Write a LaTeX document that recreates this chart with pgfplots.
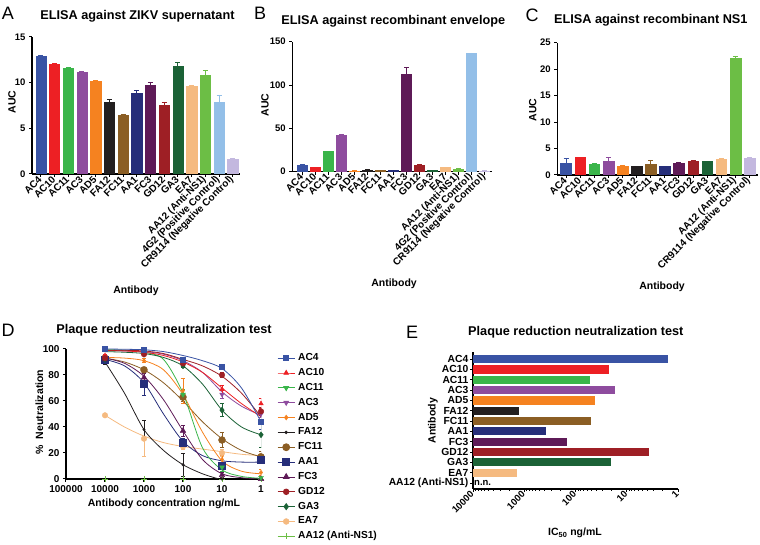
\documentclass[border=0pt]{standalone}
\usepackage{pgfplots}
\pgfplotsset{compat=1.18}
\usepackage{fontspec}
\setmainfont{Liberation Sans}
\definecolor{cAC4}{HTML}{3953A4}
\definecolor{cAC10}{HTML}{ED2024}
\definecolor{cAC11}{HTML}{3AB54A}
\definecolor{cAC3}{HTML}{8E4C9E}
\definecolor{cAD5}{HTML}{F58220}
\definecolor{cFA12}{HTML}{231F20}
\definecolor{cFC11}{HTML}{8B5E24}
\definecolor{cAA1}{HTML}{262E7A}
\definecolor{cFC3}{HTML}{5E1A57}
\definecolor{cGD12}{HTML}{9E1F25}
\definecolor{cGA3}{HTML}{1B6236}
\definecolor{cEA7}{HTML}{F5BA80}
\definecolor{cAA12}{HTML}{6CBE45}
\definecolor{cGtwo}{HTML}{93BFE8}
\definecolor{cCR}{HTML}{C3B8DF}
\pgfplotsset{
  vb/.style={ybar, bar shift=0pt, fill=#1, draw=#1,
    error bars/y dir=plus, error bars/y explicit,
    error bars/error bar style={draw=#1, line width=0.9pt},
    error bars/error mark options={draw=#1, rotate=90, mark size=2.5pt, line width=0.9pt}},
  elisa/.style={scale only axis, anchor=south west, axis lines*=left, tick align=outside,
    major tick length=3pt, axis line style={line width=1.1pt},
    every tick/.style={line width=1pt, black}, ymin=0,
    /pgf/number format/assume math mode=true,
    xticklabel style={rotate=45, anchor=east, inner sep=1pt, font=\fontsize{10}{11}\selectfont\bfseries},
    yticklabel style={font=\fontsize{9.5}{10}\selectfont\bfseries}},
  dcurve/.style={#1, line width=0.8pt, smooth, forget plot, no marks},
  dpts/.style={#1, only marks, forget plot,
    error bars/y dir=both, error bars/y explicit,
    error bars/error bar style={draw=#1, line width=0.8pt},
    error bars/error mark options={draw=#1, rotate=90, mark size=2.2pt, line width=0.8pt}},
  ebar/.style={draw=#1, line width=8.3pt, forget plot, no marks}
}
\newcommand{\ttl}{\fontsize{12.7}{14}\selectfont\bfseries}
\newcommand{\lbl}{\fontsize{10.5}{12}\selectfont\bfseries}
\newcommand{\letter}{\fontsize{18}{20}\selectfont}
\begin{document}
\begin{tikzpicture}
\path[use as bounding box] (0pt,0pt) rectangle (760pt,545pt);
% ---------------- Panel A
\begin{axis}[elisa, at={(32pt,371pt)}, width=208pt, height=137pt,
  xmin=-0.645, xmax=14.53, ymax=15, ytick={0,5,10,15}, bar width=0.75,
  xtick={0,...,14},
  xticklabels={AC4,AC10,AC11,AC3,AD5,FA12,FC11,AA1,FC3,GD12,GA3,EA7,AA12 (Anti-NS1),4G2 (Positive Control),CR9114 (Negative Control)}]
\addplot[vb=cAC4] coordinates {(0,12.9) +- (0,0.1)};
\addplot[vb=cAC10] coordinates {(1,12.0) +- (0,0.05)};
\addplot[vb=cAC11] coordinates {(2,11.6) +- (0,0.05)};
\addplot[vb=cAC3] coordinates {(3,11.15) +- (0,0.05)};
\addplot[vb=cAD5] coordinates {(4,10.15) +- (0,0.05)};
\addplot[vb=cFA12] coordinates {(5,7.9) +- (0,0.3)};
\addplot[vb=cFC11] coordinates {(6,6.4) +- (0,0.1)};
\addplot[vb=cAA1] coordinates {(7,8.9) +- (0,0.2)};
\addplot[vb=cFC3] coordinates {(8,9.7) +- (0,0.35)};
\addplot[vb=cGD12] coordinates {(9,7.55) +- (0,0.3)};
\addplot[vb=cGA3] coordinates {(10,11.8) +- (0,0.4)};
\addplot[vb=cEA7] coordinates {(11,9.6) +- (0,0.05)};
\addplot[vb=cAA12] coordinates {(12,10.85) +- (0,0.45)};
\addplot[vb=cGtwo] coordinates {(13,7.9) +- (0,0.75)};
\addplot[vb=cCR] coordinates {(14,1.6) +- (0,0.1)};
\end{axis}
% ---------------- Panel B
\begin{axis}[elisa, at={(292.3pt,373.3pt)}, width=199.4pt, height=130pt,
  xmin=-0.77, xmax=14.54, ymax=150, ytick={0,50,100,150}, bar width=0.77,
  xtick={0,...,14},
  xticklabels={AC4,AC10,AC11,AC3,AD5,FA12,FC11,AA1,FC3,GD12,GA3,EA7,AA12 (Anti-NS1),4G2 (Positive Control),CR9114 (Negative Control)}]
\addplot[vb=cAC4] coordinates {(0,7.5) +- (0,0.3)};
\addplot[vb=cAC10] coordinates {(1,5.0) +- (0,0.3)};
\addplot[vb=cAC11] coordinates {(2,23.5) +- (0,0.3)};
\addplot[vb=cAC3] coordinates {(3,42) +- (0,0.4)};
\addplot[vb=cAD5] coordinates {(4,0.8) +- (0,0.1)};
\addplot[vb=cFA12] coordinates {(5,2.0) +- (0,0.2)};
\addplot[vb=cFC11] coordinates {(6,1.5) +- (0,0.2)};
\addplot[vb=cAA1] coordinates {(7,1.5) +- (0,0.2)};
\addplot[vb=cFC3] coordinates {(8,113) +- (0,7.5)};
\addplot[vb=cGD12] coordinates {(9,8) +- (0,0.3)};
\addplot[vb=cGA3] coordinates {(10,1.2) +- (0,0.2)};
\addplot[vb=cEA7] coordinates {(11,5) +- (0,0.3)};
\addplot[vb=cAA12] coordinates {(12,3.3) +- (0,0.3)};
\addplot[vb=cGtwo] coordinates {(13,136.5) +- (0,0.5)};
\addplot[vb=cCR] coordinates {(14,0.8) +- (0,0.1)};
\end{axis}
% ---------------- Panel C
\begin{axis}[elisa, at={(557.3pt,370pt)}, width=201pt, height=132.3pt,
  xmin=-0.62, xmax=13.62, ymax=25, ytick={0,5,10,15,20,25}, bar width=0.76,
  xtick={0,...,13},
  xticklabels={AC4,AC10,AC11,AC3,AD5,FA12,FC11,AA1,FC3,GD12,GA3,EA7,AA12 (Anti-NS1),CR9114 (Negative Control)}]
\addplot[vb=cAC4] coordinates {(0,2.3) +- (0,0.75)};
\addplot[vb=cAC10] coordinates {(1,3.3) +- (0,0.1)};
\addplot[vb=cAC11] coordinates {(2,2.0) +- (0,0.1)};
\addplot[vb=cAC3] coordinates {(3,2.6) +- (0,0.65)};
\addplot[vb=cAD5] coordinates {(4,1.7) +- (0,0.1)};
\addplot[vb=cFA12] coordinates {(5,1.6) +- (0,0.05)};
\addplot[vb=cFC11] coordinates {(6,2.1) +- (0,0.6)};
\addplot[vb=cAA1] coordinates {(7,1.6) +- (0,0.05)};
\addplot[vb=cFC3] coordinates {(8,2.3) +- (0,0.05)};
\addplot[vb=cGD12] coordinates {(9,2.7) +- (0,0.1)};
\addplot[vb=cGA3] coordinates {(10,2.55) +- (0,0.05)};
\addplot[vb=cEA7] coordinates {(11,3.0) +- (0,0.1)};
\addplot[vb=cAA12] coordinates {(12,22.1) +- (0,0.3)};
\addplot[vb=cCR] coordinates {(13,3.2) +- (0,0.1)};
\end{axis}
% ---------------- Panel D
\begin{axis}[scale only axis, anchor=south west, at={(66pt,66pt)}, width=195pt, height=130pt,
  xmode=log, x dir=reverse, xmin=1, xmax=100000, ymin=0, ymax=100,
  axis lines*=left, tick align=outside, major tick length=3pt,
  axis line style={line width=1.1pt}, every tick/.style={line width=1pt, black},
  xminorticks=false,
  xtick={1,10,100,1000,10000,100000}, xticklabels={1,10,100,1000,10000,100000},
  ytick={0,20,40,60,80,100},
  /pgf/number format/assume math mode=true,
  xticklabel style={font=\fontsize{10}{11}\selectfont\bfseries},
  yticklabel style={font=\fontsize{10}{11}\selectfont\bfseries},
  legend style={at={(1.067,0.985)}, anchor=north west, draw=none, fill=none,
    font=\fontsize{10.2}{11}\selectfont\bfseries, row sep=4.85pt, column sep=3pt,
    nodes={inner sep=0pt, text height=7.5pt, text depth=2.5pt, anchor=west}},
  legend cell align=left,
  legend entries={AC4,AC10,AC11,AC3,AD5,FA12,FC11,AA1,FC3,GD12,GA3,EA7,AA12 (Anti-NS1)}]
\addlegendimage{cAC4, line width=0.8pt, mark=square*, mark size=2.5pt}
\addlegendimage{cAC10, line width=0.8pt, mark=triangle*, mark size=2.6pt}
\addlegendimage{cAC11, line width=0.8pt, mark=triangle*, mark options={rotate=180}, mark size=2.8pt}
\addlegendimage{cAC3, line width=0.8pt, mark=triangle*, mark options={rotate=180}, mark size=2.6pt}
\addlegendimage{cAD5, line width=0.8pt, mark=diamond*, mark size=2.2pt}
\addlegendimage{cFA12, line width=0.8pt, mark=*, mark size=1.3pt}
\addlegendimage{cFC11, line width=0.8pt, mark=*, mark size=3.5pt}
\addlegendimage{cAA1, line width=0.8pt, mark=square*, mark size=3.5pt}
\addlegendimage{cFC3, line width=0.8pt, mark=triangle*, mark size=3.3pt}
\addlegendimage{cGD12, line width=0.8pt, mark=*, mark size=2.8pt}
\addlegendimage{cGA3, line width=0.8pt, mark=diamond*, mark size=3pt}
\addlegendimage{cEA7, line width=0.8pt, mark=*, mark size=2.8pt}
\addlegendimage{cAA12, line width=0.8pt, mark=+, mark size=3pt}
% curves
\addplot[dcurve=cEA7] coordinates {(10000,49) (3162,40) (1000,33) (316,28) (100,25) (31.6,23) (10,21) (3.16,19) (1,18)};
\addplot[dcurve=cAA12] coordinates {(10000,0) (1000,0) (100,0) (10,0) (1,0)};
\addplot[dcurve=cFA12] coordinates {(10000,90) (3162,66) (1000,38) (316,22) (100,11) (31.6,4) (12,0)};
\addplot[dcurve=cFC11] coordinates {(10000,93) (3162,90) (1000,84) (316,74) (100,60) (31.6,44) (10,31) (3.16,22) (1,17)};
\addplot[dcurve=cAA1] coordinates {(10000,92) (3162,87) (1000,74) (316,50) (100,29) (31.6,18) (10,14) (3.16,13) (1,13)};
\addplot[dcurve=cFC3] coordinates {(10000,93) (3162,89) (1000,79) (316,61) (100,37) (31.6,15) (10,4) (3.16,1) (1,0)};
\addplot[dcurve=cAD5] coordinates {(10000,93.5) (3162,93) (1000,91) (316,84) (100,65) (31.6,36) (10,14) (3.16,6) (1,4)};
\addplot[dcurve=cAC11] coordinates {(10000,99.5) (3162,99) (1000,97.5) (316,92) (100,66) (31.6,24) (10,7) (3.16,2) (1,0.5)};
\addplot[dcurve=cGA3] coordinates {(10000,98) (3162,97.5) (1000,96.5) (316,93.5) (100,87) (31.6,73) (10,53) (3.16,40) (1,34)};
\addplot[dcurve=cAC3] coordinates {(10000,99) (3162,98.5) (1000,98) (316,96) (100,91) (31.6,82) (10,67) (3.16,56) (1,49)};
\addplot[dcurve=cAC10] coordinates {(10000,99) (3162,98.5) (1000,97.5) (316,95) (100,90) (31.6,82) (10,70) (3.16,58) (1,48)};
\addplot[dcurve=cGD12] coordinates {(10000,99) (3162,99) (1000,98.5) (316,96.5) (100,92) (31.6,87) (10,79) (3.16,66) (1,48)};
\addplot[dcurve=cAC4] coordinates {(10000,100) (3162,99.8) (1000,99.4) (316,98) (100,95) (31.6,91) (10,85) (3.16,70) (1,44)};
% points
\addplot[dpts=cEA7, mark=*, mark size=2.8pt] coordinates {(10000,49) +- (0,1) (1000,31) +- (0,14) (100,25) +- (0,2) (10,20) +- (0,3) (1,17) +- (0,3)};
\addplot[dpts=cAA12, mark=+, mark size=3pt] coordinates {(10000,0) +- (0,0) (1000,0) +- (0,0) (100,0) +- (0,0) (10,0) +- (0,0) (1,0) +- (0,0)};
\addplot[dpts=cFA12, mark=*, mark size=1.3pt] coordinates {(10000,89) +- (0,1) (1000,38) +- (0,7) (100,11) +- (0,9) (10,0) +- (0,0) (1,0) +- (0,0)};
\addplot[dpts=cFC11, mark=*, mark size=3.5pt] coordinates {(10000,93) +- (0,1) (1000,84) +- (0,2) (100,63) +- (0,3) (10,30) +- (0,6) (1,17) +- (0,4)};
\addplot[dpts=cAA1, mark=square*, mark size=3.5pt] coordinates {(10000,92) +- (0,1.5) (1000,73) +- (0,9) (100,28) +- (0,3) (10,10) +- (0,3) (1,15) +- (0,3)};
\addplot[dpts=cFC3, mark=triangle*, mark size=3.3pt] coordinates {(10000,92) +- (0,1) (1000,78) +- (0,3) (100,37) +- (0,4) (10,3) +- (0,2) (1,0) +- (0,0)};
\addplot[dpts=cAD5, mark=diamond*, mark size=2.2pt] coordinates {(10000,94) +- (0,1) (1000,91) +- (0,1.5) (100,68) +- (0,9.5) (10,15) +- (0,3) (1,5) +- (0,2)};
\addplot[dpts=cAC11, mark=triangle*, mark options={rotate=180}, mark size=2.8pt] coordinates {(10000,100) +- (0,0.5) (1000,96) +- (0,1) (100,65) +- (0,4) (10,9) +- (0,3) (1,1) +- (0,1)};
\addplot[dpts=cGA3, mark=diamond*, mark size=3pt] coordinates {(10000,92) +- (0,1) (1000,96) +- (0,1) (100,87) +- (0,1.5) (10,53) +- (0,5) (1,34) +- (0,10)};
\addplot[dpts=cAC3, mark=triangle*, mark options={rotate=180}, mark size=2.6pt] coordinates {(10000,93) +- (0,1) (1000,98) +- (0,1) (100,91) +- (0,1.5) (10,65) +- (0,3) (1,50) +- (0,3)};
\addplot[dpts=cAC10, mark=triangle*, mark size=2.6pt] coordinates {(10000,95) +- (0,1) (1000,97) +- (0,1) (100,89) +- (0,1.5) (10,69) +- (0,3) (1,58) +- (0,4)};
\addplot[dpts=cGD12, mark=*, mark size=2.8pt] coordinates {(10000,93) +- (0,1) (1000,96) +- (0,1) (100,89) +- (0,1) (10,80) +- (0,2) (1,52) +- (0,3)};
\addplot[dpts=cAC4, mark=square*, mark size=2.5pt] coordinates {(10000,100) +- (0,0.5) (1000,99.5) +- (0,1) (100,92) +- (0,1.5) (10,86) +- (0,1.5) (1,44) +- (0,6)};
\end{axis}
% ---------------- Panel E
\begin{axis}[scale only axis, anchor=south west, at={(473pt,56pt)}, width=205pt, height=137.3pt,
  xmode=log, x dir=reverse, xmin=1, xmax=10000, ymin=-0.58, ymax=12.71,
  axis lines*=left, tick align=outside, major tick length=3pt, minor tick length=1.8pt,
  axis line style={line width=1.1pt}, every tick/.style={line width=1pt, black},
  every minor tick/.style={line width=0.6pt, black},
  xtick={1,10,100,1000,10000}, xticklabels={1,10,100,1000,10000},
  minor xtick={2,3,4,5,6,7,8,9,20,30,40,50,60,70,80,90,200,300,400,500,600,700,800,900,2000,3000,4000,5000,6000,7000,8000,9000},
  ytick={0,...,12},
  yticklabels={AA12 (Anti-NS1),EA7,GA3,GD12,FC3,AA1,FC11,FA12,AD5,AC3,AC11,AC10,AC4},
  /pgf/number format/assume math mode=true,
  xticklabel style={rotate=45, anchor=east, inner sep=1pt, font=\fontsize{9.5}{10}\selectfont\bfseries},
  yticklabel style={inner sep=1.5pt, font=\fontsize{10.3}{11}\selectfont\bfseries}]
\addplot[ebar=cAC4] coordinates {(10000,12) (1.6,12)};
\addplot[ebar=cAC10] coordinates {(10000,11) (22,11)};
\addplot[ebar=cAC11] coordinates {(10000,10) (53,10)};
\addplot[ebar=cAC3] coordinates {(10000,9) (17,9)};
\addplot[ebar=cAD5] coordinates {(10000,8) (41,8)};
\addplot[ebar=cFA12] coordinates {(10000,7) (1260,7)};
\addplot[ebar=cFC11] coordinates {(10000,6) (49,6)};
\addplot[ebar=cAA1] coordinates {(10000,5) (370,5)};
\addplot[ebar=cFC3] coordinates {(10000,4) (145,4)};
\addplot[ebar=cGD12] coordinates {(10000,3) (3.7,3)};
\addplot[ebar=cGA3] coordinates {(10000,2) (20,2)};
\addplot[ebar=cEA7] coordinates {(10000,1) (1380,1)};
\node[anchor=west, inner sep=1pt, font=\fontsize{9.5}{10}\selectfont\bfseries] at (axis cs:10000,0) {n.n.};
\end{axis}
% ---------------- Texts
\node[font=\letter] at (8pt,532pt) {A};
\node[font=\letter] at (260pt,532pt) {B};
\node[font=\letter] at (532pt,530pt) {C};
\node[font=\letter] at (8pt,215pt) {D};
\node[font=\letter] at (412pt,213pt) {E};
\node[font=\ttl] at (137.5pt,528.3pt) {ELISA against ZIKV supernatant};
\node[font=\ttl] at (393.3pt,523.3pt) {ELISA against recombinant envelope};
\node[font=\ttl] at (650.8pt,524.3pt) {ELISA against recombinant NS1};
\node[font=\lbl, rotate=90] at (12pt,443pt) {AUC};
\node[font=\lbl, rotate=90] at (265pt,440pt) {AUC};
\node[font=\lbl, rotate=90] at (532.7pt,435pt) {AUC};
\node[font=\lbl] at (136pt,254pt) {Antibody};
\node[font=\lbl] at (394pt,261pt) {Antibody};
\node[font=\lbl] at (662pt,258pt) {Antibody};
\node[font=\ttl] at (164pt,215pt) {Plaque reduction neutralization test};
\node[font=\lbl, rotate=90] at (39.3pt,133pt) {\%\ \ Neutralization};
\node[font=\lbl] at (164pt,41pt) {Antibody concentration ng/mL};
\node[font=\ttl] at (575.8pt,212.7pt) {Plaque reduction neutralization test};
\node[font=\lbl] at (575pt,12pt) {IC$_{\mathbf{50}}$ ng/mL};
\node[font=\lbl, rotate=90] at (433pt,124.2pt) {Antibody};
\end{tikzpicture}
\end{document}
